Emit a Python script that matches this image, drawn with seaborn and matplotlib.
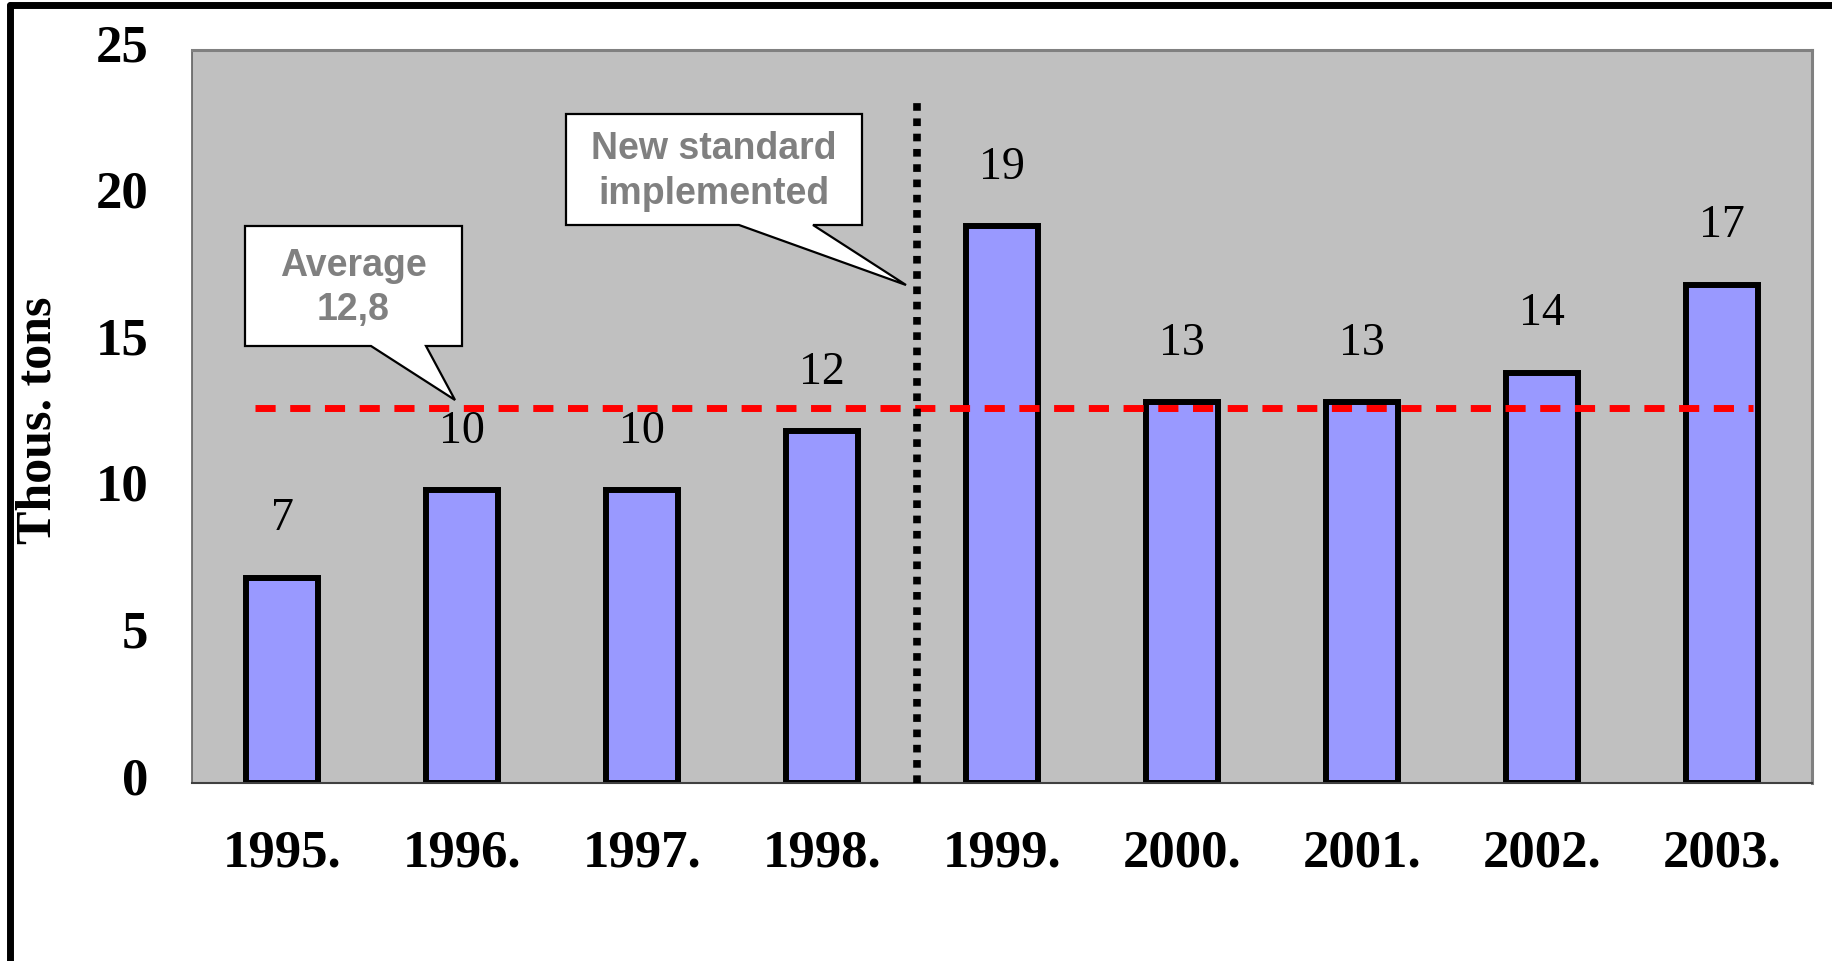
import numpy as np
import pandas as pd
import matplotlib
matplotlib.use("Agg")
import matplotlib.pyplot as plt
import matplotlib.transforms as mtransforms
import seaborn as sns
from matplotlib.lines import Line2D
from matplotlib.patches import Polygon

# data
years = ["1995.", "1996.", "1997.", "1998.", "1999.", "2000.", "2001.", "2002.", "2003."]
values = [7, 10, 10, 12, 19, 13, 13, 14, 17]
avg_text = "Average\n12,8"
std_text = "New standard\nimplemented"
y_label = "Thous. tons"

df = pd.DataFrame({"Year": years, "Value": values})
avg = np.mean(values)

sns.set_style("white")
plt.rcParams["font.family"] = ["Liberation Serif", "DejaVu Serif"]
plt.rcParams["text.color"] = "black"
plt.rcParams["axes.labelcolor"] = "black"
plt.rcParams["xtick.color"] = "black"
plt.rcParams["ytick.color"] = "black"

W, H = 1832, 962
fig = plt.figure(figsize=(W / 100, H / 100), dpi=100)
ax = fig.add_axes([192 / W, 1 - 784 / H, 1620 / W, 733 / H])
ax.set_facecolor("#C0C0C0")

sns.barplot(data=df, x="Year", y="Value", color="#9999FF", saturation=1,
            width=0.4, edgecolor="black", linewidth=4.3, ax=ax, zorder=2)

ax.set_xlim(-0.5, len(years) - 0.5)
ax.set_ylim(0, 25)

# value labels above bars
for i, v in enumerate(values):
    ax.text(i, v + 2.03, str(v), ha="center", va="center", fontsize=33,
            color="black", zorder=3)

# average line
ax.plot([-0.15, 8.17], [avg, avg], color="#FF0000", lw=5, ls=(0, (2.9, 2.1)),
        solid_capstyle="butt", dash_capstyle="butt", zorder=4)

# new standard marker
ax.plot([3.53, 3.53], [0, 23.4], color="black", lw=5.5, ls=(0, (1, 1)),
        dash_capstyle="butt", zorder=5)

# axis styling
ax.set_yticks(range(0, 26, 5))
ax.set_xticks(np.arange(-0.5, len(years), 1.0))
ax.set_xticklabels([])
ax.set_xticks(range(len(years)), minor=True)
ax.set_xticklabels(years, minor=True, fontsize=38, fontweight="bold")
ax.tick_params(axis="x", which="major", direction="out", length=11.5, width=1, color="#404040")
ax.tick_params(axis="x", which="minor", length=0, pad=33)
ax.tick_params(axis="y", direction="out", length=11.5, width=1, color="#404040", pad=20)
shift = mtransforms.ScaledTranslation(0, 6 / 72, fig.dpi_scale_trans)
for lab in ax.get_yticklabels():
    lab.set_fontsize(38)
    lab.set_fontweight("bold")
    lab.set_transform(lab.get_transform() + shift)
ax.set_xlabel("")
ax.set_ylabel(y_label, fontsize=36, fontweight="bold", labelpad=0, va="center")
ax.yaxis.set_label_coords((39 - 192) / 1620, (784 - 420) / 733)

for side in ["top", "right"]:
    ax.spines[side].set_color("#808080")
    ax.spines[side].set_linewidth(2.2)
ax.spines["left"].set_color("#606060")
ax.spines["left"].set_linewidth(1.2)
ax.spines["bottom"].set_color("#404040")
ax.spines["bottom"].set_linewidth(1.5)


def px(x, y):
    return (x / W, 1 - y / H)


def callout(x0, x1, y0, y1, b0, b1, tip, text):
    pts = [px(x0, y0), px(x1, y0), px(x1, y1), px(b1, y1), px(*tip), px(b0, y1), px(x0, y1)]
    poly = Polygon(pts, closed=True, transform=fig.transFigure, facecolor="white",
                   edgecolor="black", lw=1.6, zorder=6)
    fig.add_artist(poly)
    fig.text((x0 + x1) / 2 / W, 1 - ((y0 + y1) / 2 + 1) / H, text, ha="center", va="center",
             fontsize=27, fontweight="bold", color="#808080", linespacing=1.32,
             family=["Liberation Sans", "DejaVu Sans"], zorder=7)


callout(245, 462, 227, 347, 371, 426, (455, 401), avg_text)
callout(566, 862, 115, 226, 739, 813, (906, 286), std_text)

# outer frame (left and top edges)
fig.add_artist(Line2D([10 / W, 10 / W], [0, 1 - 6 / H], color="black", lw=5, transform=fig.transFigure))
fig.add_artist(Line2D([10 / W, 1], [1 - 6 / H, 1 - 6 / H], color="black", lw=5, transform=fig.transFigure))

fig.savefig("out.png", dpi=100)
